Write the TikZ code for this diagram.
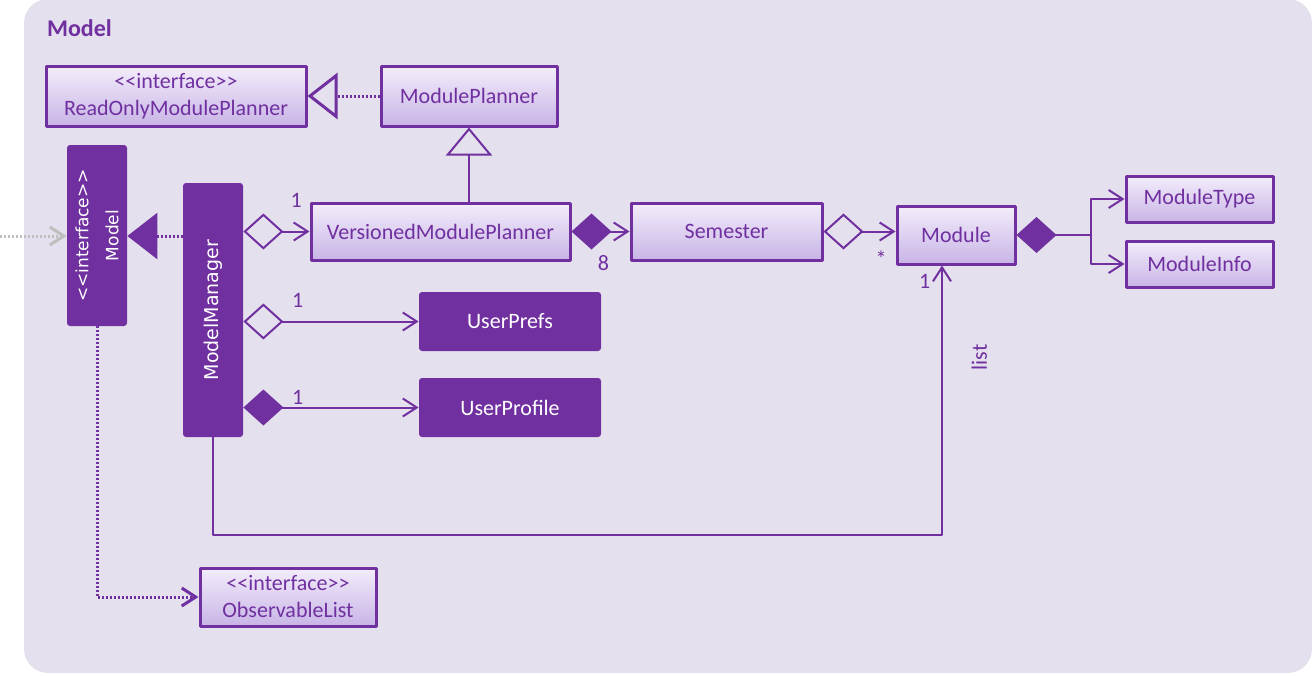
\documentclass[tikz,border=0pt]{standalone}
\usepackage{fontspec}
\setmainfont{Carlito}[Ligatures=TeXOff]
\newfontfamily\rotfont{DejaVu Sans}[Ligatures=TeXOff]
\usetikzlibrary{arrows.meta}
\definecolor{umlpurple}{RGB}{112,48,160}
\definecolor{panelbg}{RGB}{229,224,237}
\definecolor{boxtop}{RGB}{243,237,251}
\definecolor{boxbot}{RGB}{200,180,230}
\definecolor{extgray}{RGB}{190,190,190}
\begin{document}
\begin{tikzpicture}[x=0.5pt, y=0.5pt, line join=round, >=Straight Barb,
	font=\fontsize{11}{13.5}\selectfont, text=umlpurple,
	classbox/.style={draw=umlpurple, line width=1.5pt, top color=boxtop, bottom color=boxbot, align=center, inner sep=0pt},
	darkbox/.style={fill=umlpurple, rounded corners=1.5pt, text=white, align=center, inner sep=0pt},
	link/.style={draw=umlpurple, line width=1pt},
	assoc/.style={link, -{Straight Barb[length=7pt, width=9pt]}},
	agg/.style={link, {Diamond[open, length=20pt, width=18pt]}-{Straight Barb[length=7pt, width=9pt]}},
	compo/.style={link, {Diamond[length=20pt, width=18pt]}-{Straight Barb[length=7pt, width=9pt]}},
	inherit/.style={link, -{Triangle[open, length=14pt, width=23pt]}},
	realize/.style={link, line width=1.5pt, dash pattern=on 1pt off 1pt, -{Triangle[open, length=15pt, width=23pt]}},
	implements/.style={link, line width=1.5pt, dash pattern=on 1pt off 1pt, -{Triangle[length=15pt, width=23pt]}},
	depend/.style={link, line width=1.5pt, dash pattern=on 1pt off 1pt, -{Straight Barb[length=7pt, width=9pt]}}]
	\useasboundingbox (0,0) rectangle (1312,-675);
	\fill[panelbg, rounded corners=12pt] (24,1) rectangle (1312,-673);
	\node[anchor=west, font=\fontsize{12}{14}\selectfont\bfseries] (title) at (40,-28) {Model};
	% classes
	\node[classbox, minimum width=130pt, minimum height=30pt] (romp) at (176,-96) {<<interface>>\\ReadOnlyModulePlanner};
	\node[classbox, minimum width=88pt, minimum height=30pt] (mplan) at (469,-96) {ModulePlanner};
	\node[classbox, minimum width=129.5pt, minimum height=28.5pt] (vmp) at (440.5,-231.5) {VersionedModulePlanner};
	\node[classbox, minimum width=95.5pt, minimum height=28.5pt] (sem) at (726.5,-231.5) {Semester};
	\node[classbox, minimum width=59pt, minimum height=29pt] (module) at (956,-235) {Module};
	\node[classbox, minimum width=73.5pt, minimum height=23pt] (mtype) at (1199.5,-199) {ModuleType};
	\node[classbox, minimum width=73.5pt, minimum height=23pt] (minfo) at (1199.5,-264) {ModuleInfo};
	\node[classbox, minimum width=88pt, minimum height=29pt] (obs) at (288,-597) {<<interface>>\\ObservableList};
	\node[darkbox, rotate=90, minimum width=90.5pt, minimum height=30pt, font=\rotfont\fontsize{8.5}{15}\selectfont] (model) at (97,-235.5) {<<interface>>\\Model};
	\node[darkbox, rotate=90, minimum width=127pt, minimum height=30pt, font=\rotfont\fontsize{9.5}{12}\selectfont] (mgr) at (213,-310) {ModelManager};
	\node[darkbox, minimum width=91pt, minimum height=29.5pt] (prefs) at (510,-321.5) {UserPrefs};
	\node[darkbox, minimum width=91pt, minimum height=29.5pt] (profile) at (510,-407.5) {UserProfile};
	\coordinate (ext) at (0,-236);
	% relations
	\draw[realize] (mplan.west) -- (romp.east);
	\draw[inherit] (vmp.north -| mplan.south) -- (mplan.south);
	\draw[extgray, line width=1.5pt, dash pattern=on 1pt off 1pt, -{Straight Barb[length=7pt, width=9pt]}] (ext) -- (model.north |- ext);
	\draw[implements] (mgr.north |- ext) -- (model.south |- ext);
	\draw[agg] (mgr.south |- vmp.west) -- node[pos=0.8, above=8pt] {1} (vmp.west);
	\draw[compo] (vmp.east) -- node[pos=0.55, below=8pt] {8} (sem.west);
	\draw[agg] (sem.east) -- node[pos=0.8, below=6pt] {*} (sem.east -| module.west);
	\coordinate (split) at ([xshift=37pt]module.east);
	\draw[link, {Diamond[length=20pt, width=18pt]}-] (module.east) -- (split);
	\draw[assoc] (split) |- (mtype.west);
	\draw[assoc] (split) |- (minfo.west);
	\draw[agg] (mgr.south |- prefs.west) -- node[pos=0.31, above=3pt] {1} (prefs.west);
	\draw[compo] (mgr.south |- profile.west) -- node[pos=0.31, above, inner sep=1pt] {1} (profile.west);
	\draw[assoc] (mgr.west) -- ++(0,-98) -| node[pos=0.97, left=2pt] {1} node[pos=0.83, sloped, below=11pt] {list} ([xshift=-7pt]module.south);
	\draw[depend] (model.west) |- (obs.west);
\end{tikzpicture}
\end{document}
